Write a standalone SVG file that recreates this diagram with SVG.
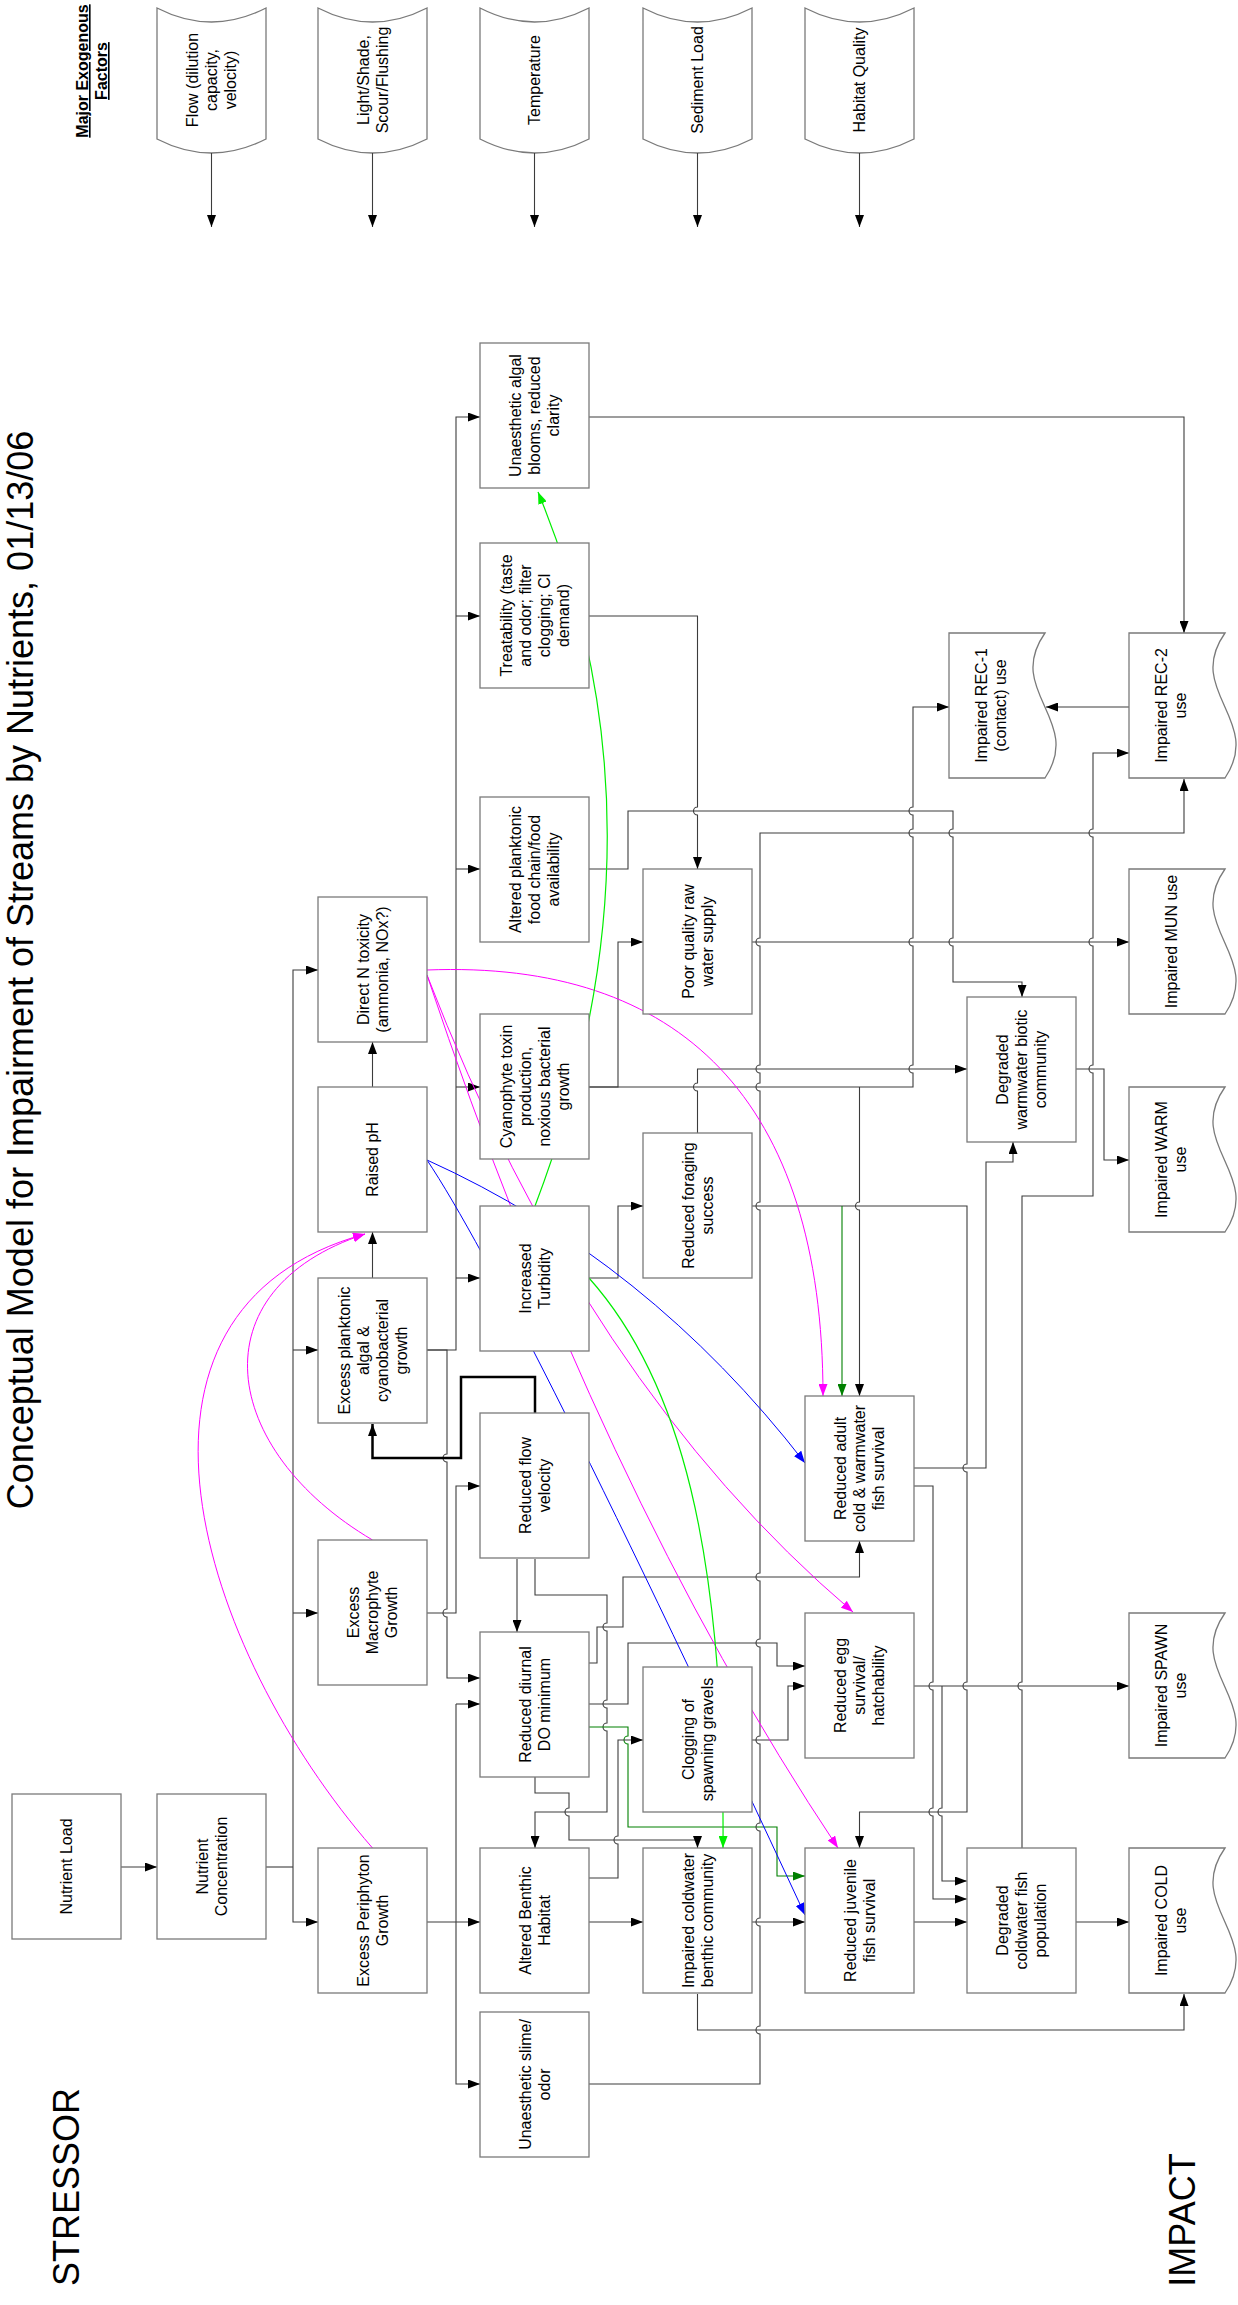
<svg xmlns="http://www.w3.org/2000/svg" width="1238" height="2305" viewBox="0 0 1238 2305">
<style>
.b{fill:#fff;stroke:#7a7a7a;stroke-width:1.3}
.t{font-family:"Liberation Sans",Arial,sans-serif;font-size:16px;fill:#000;text-anchor:middle}
.big{font-family:"Liberation Sans",Arial,sans-serif;font-size:36px;fill:#000;text-anchor:middle}
.hd{font-family:"Liberation Sans",Arial,sans-serif;font-size:16px;font-weight:bold;text-decoration:underline;fill:#000;text-anchor:middle}
.c{fill:none;stroke:#3c3c3c;stroke-width:1.1;marker-end:url(#a)}
.n{fill:none;stroke:#3c3c3c;stroke-width:1.1}
.bold{fill:none;stroke:#000;stroke-width:2.5;marker-end:url(#a)}
.m{fill:none;stroke:#ff00ff;stroke-width:1;marker-end:url(#am)}
.bl{fill:none;stroke:#0000ff;stroke-width:1;marker-end:url(#ab)}
.g{fill:none;stroke:#00ee00;stroke-width:1.2;marker-end:url(#ag)}
.dg{fill:none;stroke:#008000;stroke-width:1.1;marker-end:url(#adg)}
</style>
<defs>
<marker id="a" viewBox="0 0 12 9" refX="12" refY="4.5" markerWidth="12" markerHeight="9" markerUnits="userSpaceOnUse" orient="auto"><path d="M0,0 L12,4.5 L0,9 z" fill="#000"/></marker>
<marker id="am" viewBox="0 0 12 9" refX="12" refY="4.5" markerWidth="12" markerHeight="9" markerUnits="userSpaceOnUse" orient="auto"><path d="M0,0 L12,4.5 L0,9 z" fill="#ff00ff"/></marker>
<marker id="ab" viewBox="0 0 12 9" refX="12" refY="4.5" markerWidth="12" markerHeight="9" markerUnits="userSpaceOnUse" orient="auto"><path d="M0,0 L12,4.5 L0,9 z" fill="#0000ff"/></marker>
<marker id="ag" viewBox="0 0 12 9" refX="12" refY="4.5" markerWidth="12" markerHeight="9" markerUnits="userSpaceOnUse" orient="auto"><path d="M0,0 L12,4.5 L0,9 z" fill="#00ee00"/></marker>
<marker id="adg" viewBox="0 0 12 9" refX="12" refY="4.5" markerWidth="12" markerHeight="9" markerUnits="userSpaceOnUse" orient="auto"><path d="M0,0 L12,4.5 L0,9 z" fill="#008000"/></marker>
</defs>
<rect width="1238" height="2305" fill="#fff"/>

<g id="titles">
<text class="big" transform="translate(33,970) rotate(-90)">Conceptual Model for Impairment of Streams by Nutrients, 01/13/06</text>
<text class="big" transform="translate(79,2187) rotate(-90)">STRESSOR</text>
<text class="big" transform="translate(1195,2220) rotate(-90)">IMPACT</text>
<text class="hd" transform="translate(88,71) rotate(-90)">Major Exogenous</text>
<text class="hd" transform="translate(107,71) rotate(-90)">Factors</text>
</g>

<g id="exogenous">
<g id="ex-flow"><path class="b" d="M157,8 Q211.5,36 266,8 V139 Q211.5,167 157,139 Z"/><text class="t" transform="translate(211.5,80) rotate(-90)"><tspan x="0" y="-13.5">Flow (dilution</tspan><tspan x="0" y="5.5">capacity,</tspan><tspan x="0" y="24.5">velocity)</tspan></text></g>
<g id="ex-light"><path class="b" d="M318,8 Q372.5,36 427,8 V139 Q372.5,167 318,139 Z"/><text class="t" transform="translate(372.5,80) rotate(-90)"><tspan x="0" y="-4">Light/Shade,</tspan><tspan x="0" y="15">Scour/Flushing</tspan></text></g>
<g id="ex-temp"><path class="b" d="M480,8 Q534.5,36 589,8 V139 Q534.5,167 480,139 Z"/><text class="t" transform="translate(534.5,80) rotate(-90)"><tspan x="0" y="5.5">Temperature</tspan></text></g>
<g id="ex-sed"><path class="b" d="M643,8 Q697.5,36 752,8 V139 Q697.5,167 643,139 Z"/><text class="t" transform="translate(697.5,80) rotate(-90)"><tspan x="0" y="5.5">Sediment Load</tspan></text></g>
<g id="ex-hab"><path class="b" d="M805,8 Q859.5,36 914,8 V139 Q859.5,167 805,139 Z"/><text class="t" transform="translate(859.5,80) rotate(-90)"><tspan x="0" y="5.5">Habitat Quality</tspan></text></g>
</g>

<g id="connectors">
<path class="c" d="M211.5,153 V227"/>
<path class="c" d="M372.5,153 V227"/>
<path class="c" d="M534.5,153 V227"/>
<path class="c" d="M697.5,153 V227"/>
<path class="c" d="M859.5,153 V227"/>

<path class="c" d="M121,1867 H157"/>
<path class="n" d="M266,1867 H293"/>
<path class="c" d="M293,1867 V970 H318"/>
<path class="c" d="M293,1867 V1922 H318"/>
<path class="c" d="M293,1350 H318"/>
<path class="c" d="M293,1613 H318"/>
<path class="c" d="M372.5,1278 V1232"/>
<path class="c" d="M372.5,1087 V1042"/>

<path class="c" d="M427,1350 H456 V417 H480"/>
<path class="c" d="M456,616 H480"/>
<path class="c" d="M456,869 H480"/>
<path class="c" d="M456,1087 H480"/>
<path class="c" d="M456,1278 H480"/>
<path class="c" d="M427,1350 H447 V1454 A4 4 0 0 0 447 1462 V1609 A4 4 0 0 0 447 1617 V1678 H480"/>
<path class="c" d="M427,1613 H456 V1486 H480"/>
<path class="bold" d="M535,1413 V1377 H461 V1458 H372.5 V1424"/>
<path class="c" d="M517,1559 V1632"/>
<path class="c" d="M535,1559 V1595 H607 V1623 A4 4 0 0 0 607 1631 V1700 A4 4 0 0 0 607 1708 V1723 A4 4 0 0 0 607 1731 V1812 H535 V1848"/>
<path class="c" d="M589,1663 H597 V1627 H623 V1577 H859.5 V1541"/>
<path class="c" d="M589,1704 H628 V1643 H777 V1666 H805"/>
<path class="dg" d="M589,1727 H628 V1736 A4 4 0 0 0 628 1744 V1827 H777 V1876 H805"/>
<path class="c" d="M535,1776 V1793 H569 V1808 A4 4 0 0 0 569 1816 V1840 H697.5 V1848"/>
<path class="c" d="M589,1878 H618 V1844 A4 4 0 0 1 618 1836 V1740 H643"/>
<path class="c" d="M589,1922 H643"/>
<path class="c" d="M427,1922 H480"/>
<path class="c" d="M456,1704 V2084 H480"/>
<path class="c" d="M456,1704 H480"/>
<path class="c" d="M589,2084 H760 V2034 A4 4 0 0 1 760 2026 V1926 A4 4 0 0 1 760 1918 V1831 A4 4 0 0 1 760 1823 V1744 A4 4 0 0 1 760 1736 V1647 A4 4 0 0 1 760 1639 V1581 A4 4 0 0 1 760 1573 V1210 A4 4 0 0 1 760 1202 V1091 A4 4 0 0 1 760 1083 V1073 A4 4 0 0 1 760 1065 V946 A4 4 0 0 1 760 938 V833 H1184 V779"/>
<path class="c" d="M589,417 H1184 V633"/>
<path class="c" d="M589,616 H697.5 V807 A4 4 0 0 0 697.5 815 V869"/>
<path class="c" d="M589,869 H628 V811 H953 V829 A4 4 0 0 0 953 837 V938 A4 4 0 0 0 953 946 V982 H1022 V997"/>
<path class="c" d="M589,1087 H618 V942 H643"/>
<path class="c" d="M589,1087 H913 V1073 A4 4 0 0 1 913 1065 V946 A4 4 0 0 1 913 938 V837 A4 4 0 0 1 913 829 V815 A4 4 0 0 1 913 807 V707 H949"/>
<path class="c" d="M859.5,1087 V1202 A4 4 0 0 0 859.5 1210 V1396"/>
<path class="c" d="M589,1278 H618 V1206 H643"/>
<path class="c" d="M697.5,1133 V1091 A4 4 0 0 1 697.5 1083 V1069 H967"/>
<path class="c" d="M752,1206 H967 V1464 A4 4 0 0 0 967 1472 V1682 A4 4 0 0 0 967 1690 V1812 H859.5 V1848"/>
<path class="dg" d="M842,1206 V1396"/>
<path class="c" d="M913,1468 H986 V1162 H1013 V1142"/>
<path class="c" d="M913,1486 H933 V1682 A4 4 0 0 0 933 1690 V1808 A4 4 0 0 0 933 1816 V1899 H967"/>
<path class="c" d="M913,1686 H1129"/>
<path class="c" d="M942,1686 V1808 A4 4 0 0 0 942 1816 V1881 H967"/>
<path class="c" d="M752,1740 H788 V1686 H805"/>
<path class="c" d="M752,1922 H805"/>
<path class="c" d="M697.5,1994 V2030 H1184 V1994"/>
<path class="c" d="M913,1922 H967"/>
<path class="c" d="M1076,1922 H1129"/>
<path class="c" d="M1022,1848 V1690 A4 4 0 0 1 1022 1682 V1196 H1093 V1073 A4 4 0 0 1 1093 1065 V946 A4 4 0 0 1 1093 938 V837 A4 4 0 0 1 1093 829 V753 H1129"/>
<path class="c" d="M1076,1069 H1104 V1160 H1129"/>
<path class="c" d="M752,942 H1129"/>
<path class="c" d="M1129,707 H1046"/>

<path class="m" d="M372.5,1848 C200,1650 90,1310 365,1234"/>
<path class="m" d="M372.5,1540 C220,1450 195,1290 365,1234"/>
<path class="m" d="M427,970 C680,960 823,1100 823,1396"/>
<path class="m" d="M427,975 Q584,1383 853,1612"/>
<path class="m" d="M427,975 Q598,1488 838,1848"/>
<path class="bl" d="M427,1160 Q648,1260 805,1463"/>
<path class="bl" d="M427,1160 Q516,1293 805,1915"/>
<path class="g" d="M535,1206 Q678,830 538,492"/>
<path class="g" d="M589,1278 C680,1380 725,1550 723,1848"/>
</g>

<g id="n-load"><rect class="b" x="12" y="1794" width="109" height="145"/><text class="t" transform="translate(66.5,1866.5) rotate(-90)"><tspan x="0" y="5.5">Nutrient Load</tspan></text></g>
<g id="n-conc"><rect class="b" x="157" y="1794" width="109" height="145"/><text class="t" transform="translate(211.5,1866.5) rotate(-90)"><tspan x="0" y="-4">Nutrient</tspan><tspan x="0" y="15">Concentration</tspan></text></g>

<g id="n-directn"><rect class="b" x="318" y="897" width="109" height="145"/><text class="t" transform="translate(372.5,969.5) rotate(-90)"><tspan x="0" y="-4">Direct N toxicity</tspan><tspan x="0" y="15">(ammonia, NOx?)</tspan></text></g>
<g id="n-ph"><rect class="b" x="318" y="1087" width="109" height="145"/><text class="t" transform="translate(372.5,1159.5) rotate(-90)"><tspan x="0" y="5.5">Raised pH</tspan></text></g>
<g id="n-plank"><rect class="b" x="318" y="1278" width="109" height="145"/><text class="t" transform="translate(372.5,1350.5) rotate(-90)"><tspan x="0" y="-23">Excess planktonic</tspan><tspan x="0" y="-4">algal &amp;</tspan><tspan x="0" y="15">cyanobacterial</tspan><tspan x="0" y="34">growth</tspan></text></g>
<g id="n-macro"><rect class="b" x="318" y="1540" width="109" height="145"/><text class="t" transform="translate(372.5,1612.5) rotate(-90)"><tspan x="0" y="-13.5">Excess</tspan><tspan x="0" y="5.5">Macrophyte</tspan><tspan x="0" y="24.5">Growth</tspan></text></g>
<g id="n-peri"><rect class="b" x="318" y="1848" width="109" height="145"/><text class="t" transform="translate(372.5,1920.5) rotate(-90)"><tspan x="0" y="-4">Excess Periphyton</tspan><tspan x="0" y="15">Growth</tspan></text></g>

<g id="n-blooms"><rect class="b" x="480" y="343" width="109" height="145"/><text class="t" transform="translate(534.5,415.5) rotate(-90)"><tspan x="0" y="-13.5">Unaesthetic algal</tspan><tspan x="0" y="5.5">blooms, reduced</tspan><tspan x="0" y="24.5">clarity</tspan></text></g>
<g id="n-treat"><rect class="b" x="480" y="543" width="109" height="145"/><text class="t" transform="translate(534.5,615.5) rotate(-90)"><tspan x="0" y="-23">Treatability (taste</tspan><tspan x="0" y="-4">and odor; filter</tspan><tspan x="0" y="15">clogging; Cl</tspan><tspan x="0" y="34">demand)</tspan></text></g>
<g id="n-altplank"><rect class="b" x="480" y="797" width="109" height="145"/><text class="t" transform="translate(534.5,869.5) rotate(-90)"><tspan x="0" y="-13.5">Altered planktonic</tspan><tspan x="0" y="5.5">food chain/food</tspan><tspan x="0" y="24.5">availability</tspan></text></g>
<g id="n-cyano"><rect class="b" x="480" y="1014" width="109" height="145"/><text class="t" transform="translate(534.5,1086.5) rotate(-90)"><tspan x="0" y="-23">Cyanophyte toxin</tspan><tspan x="0" y="-4">production,</tspan><tspan x="0" y="15">noxious bacterial</tspan><tspan x="0" y="34">growth</tspan></text></g>
<g id="n-turb"><rect class="b" x="480" y="1206" width="109" height="145"/><text class="t" transform="translate(534.5,1278.5) rotate(-90)"><tspan x="0" y="-4">Increased</tspan><tspan x="0" y="15">Turbidity</tspan></text></g>
<g id="n-flow"><rect class="b" x="480" y="1413" width="109" height="145"/><text class="t" transform="translate(534.5,1485.5) rotate(-90)"><tspan x="0" y="-4">Reduced flow</tspan><tspan x="0" y="15">velocity</tspan></text></g>
<g id="n-do"><rect class="b" x="480" y="1632" width="109" height="145"/><text class="t" transform="translate(534.5,1704.5) rotate(-90)"><tspan x="0" y="-4">Reduced diurnal</tspan><tspan x="0" y="15">DO minimum</tspan></text></g>
<g id="n-benthab"><rect class="b" x="480" y="1848" width="109" height="145"/><text class="t" transform="translate(534.5,1920.5) rotate(-90)"><tspan x="0" y="-4">Altered Benthic</tspan><tspan x="0" y="15">Habitat</tspan></text></g>
<g id="n-slime"><rect class="b" x="480" y="2012" width="109" height="145"/><text class="t" transform="translate(534.5,2084.5) rotate(-90)"><tspan x="0" y="-4">Unaesthetic slime/</tspan><tspan x="0" y="15">odor</tspan></text></g>

<g id="n-raw"><rect class="b" x="643" y="869" width="109" height="145"/><text class="t" transform="translate(697.5,941.5) rotate(-90)"><tspan x="0" y="-4">Poor quality raw</tspan><tspan x="0" y="15">water supply</tspan></text></g>
<g id="n-forage"><rect class="b" x="643" y="1133" width="109" height="145"/><text class="t" transform="translate(697.5,1205.5) rotate(-90)"><tspan x="0" y="-4">Reduced foraging</tspan><tspan x="0" y="15">success</tspan></text></g>
<g id="n-clog"><rect class="b" x="643" y="1667" width="109" height="145"/><text class="t" transform="translate(697.5,1739.5) rotate(-90)"><tspan x="0" y="-4">Clogging of</tspan><tspan x="0" y="15">spawning gravels</tspan></text></g>
<g id="n-benthic"><rect class="b" x="643" y="1848" width="109" height="145"/><text class="t" transform="translate(697.5,1920.5) rotate(-90)"><tspan x="0" y="-4">Impaired coldwater</tspan><tspan x="0" y="15">benthic community</tspan></text></g>

<g id="n-adult"><rect class="b" x="805" y="1396" width="109" height="145"/><text class="t" transform="translate(859.5,1468.5) rotate(-90)"><tspan x="0" y="-13.5">Reduced adult</tspan><tspan x="0" y="5.5">cold &amp; warmwater</tspan><tspan x="0" y="24.5">fish survival</tspan></text></g>
<g id="n-egg"><rect class="b" x="805" y="1613" width="109" height="145"/><text class="t" transform="translate(859.5,1685.5) rotate(-90)"><tspan x="0" y="-13.5">Reduced egg</tspan><tspan x="0" y="5.5">survival/</tspan><tspan x="0" y="24.5">hatchability</tspan></text></g>
<g id="n-juv"><rect class="b" x="805" y="1848" width="109" height="145"/><text class="t" transform="translate(859.5,1920.5) rotate(-90)"><tspan x="0" y="-4">Reduced juvenile</tspan><tspan x="0" y="15">fish survival</tspan></text></g>

<g id="n-warmcomm"><rect class="b" x="967" y="997" width="109" height="145"/><text class="t" transform="translate(1021.5,1069.5) rotate(-90)"><tspan x="0" y="-13.5">Degraded</tspan><tspan x="0" y="5.5">warmwater biotic</tspan><tspan x="0" y="24.5">community</tspan></text></g>
<g id="n-coldpop"><rect class="b" x="967" y="1848" width="109" height="145"/><text class="t" transform="translate(1021.5,1920.5) rotate(-90)"><tspan x="0" y="-13.5">Degraded</tspan><tspan x="0" y="5.5">coldwater fish</tspan><tspan x="0" y="24.5">population</tspan></text></g>

<g id="n-rec1"><path class="b" d="M949,633 H1045 C1004,691 1084,720 1045,778 H949 Z"/><text class="t" transform="translate(991,705.5) rotate(-90)"><tspan x="0" y="-4">Impaired REC-1</tspan><tspan x="0" y="15">(contact) use</tspan></text></g>
<g id="n-rec2"><path class="b" d="M1129,633 H1225 C1184,691 1264,720 1225,778 H1129 Z"/><text class="t" transform="translate(1171,705.5) rotate(-90)"><tspan x="0" y="-4">Impaired REC-2</tspan><tspan x="0" y="15">use</tspan></text></g>
<g id="n-mun"><path class="b" d="M1129,869 H1225 C1184,927 1264,956 1225,1014 H1129 Z"/><text class="t" transform="translate(1171,941.5) rotate(-90)"><tspan x="0" y="5.5">Impaired MUN use</tspan></text></g>
<g id="n-warm"><path class="b" d="M1129,1087 H1225 C1184,1145 1264,1174 1225,1232 H1129 Z"/><text class="t" transform="translate(1171,1159.5) rotate(-90)"><tspan x="0" y="-4">Impaired WARM</tspan><tspan x="0" y="15">use</tspan></text></g>
<g id="n-spawn"><path class="b" d="M1129,1613 H1225 C1184,1671 1264,1700 1225,1758 H1129 Z"/><text class="t" transform="translate(1171,1685.5) rotate(-90)"><tspan x="0" y="-4">Impaired SPAWN</tspan><tspan x="0" y="15">use</tspan></text></g>
<g id="n-cold"><path class="b" d="M1129,1848 H1225 C1184,1906 1264,1935 1225,1993 H1129 Z"/><text class="t" transform="translate(1171,1920.5) rotate(-90)"><tspan x="0" y="-4">Impaired COLD</tspan><tspan x="0" y="15">use</tspan></text></g>
</svg>
